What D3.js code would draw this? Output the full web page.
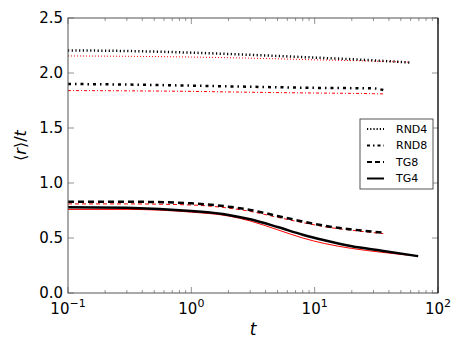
<!DOCTYPE html>
<html>
<head>
<meta charset="utf-8">
<script src="https://cdn.jsdelivr.net/npm/d3@7"></script>
<style>
  body { margin: 0; background: #fff; }
  text { font-family: "DejaVu Sans", sans-serif; }
</style>
</head>
<body>
<svg id="chart" width="463" height="348"></svg>
<script>
// values
var rnd4_t  = [0.1, 0.3, 1, 3, 10, 30, 59];
var rnd4_b  = [2.205, 2.20, 2.185, 2.165, 2.14, 2.115, 2.095];
var rnd4_r  = [2.155, 2.152, 2.145, 2.135, 2.12, 2.108, 2.098];

var rnd8_t  = [0.1, 0.3, 1, 3, 10, 30, 36];
var rnd8_b  = [1.90, 1.895, 1.885, 1.875, 1.865, 1.86, 1.845];
var rnd8_r  = [1.84, 1.838, 1.833, 1.825, 1.818, 1.812, 1.81];

var tg8_t   = [0.1, 0.3, 1, 2, 3, 5, 8, 13, 20, 36];
var tg8_b   = [0.83, 0.83, 0.815, 0.785, 0.755, 0.70, 0.65, 0.605, 0.578, 0.548];
var tg8_r   = [0.81, 0.81, 0.80, 0.772, 0.742, 0.688, 0.64, 0.597, 0.57, 0.54];

var tg4_t   = [0.1, 0.3, 1, 2, 3, 5, 8, 12, 20, 35, 69];
var tg4_b   = [0.78, 0.775, 0.745, 0.71, 0.67, 0.60, 0.53, 0.48, 0.425, 0.385, 0.335];
var tg4_r   = [0.76, 0.76, 0.735, 0.70, 0.655, 0.575, 0.50, 0.45, 0.405, 0.37, 0.335];

var yTicks = [0, 0.5, 1.0, 1.5, 2.0, 2.5];
var xTicks = [0.1, 1, 10, 100];
var xExp   = ['\u22121', '0', '1', '2'];
var legendNames = ['RND4', 'RND8', 'TG8', 'TG4'];

var svg = d3.select('#chart');
var margin = {top: 18, right: 25, bottom: 55, left: 68}
  , width = 463 - margin.left - margin.right
  , height = 348 - margin.top - margin.bottom;

var xScale = d3.scaleLog().domain([0.1, 100]).range([0, width]);
var yScale = d3.scaleLinear().domain([0, 2.5]).range([height, 0]);

var g = svg.append('g')
    .attr('transform', 'translate(' + margin.left + ',' + margin.top + ')');

// minor + major ticks, inside, bottom and top
var minors = [];
[0.1, 1, 10].forEach(function(d) {
  for (var k = 2; k <= 9; k++) minors.push(d * k);
});
[[height, -1], [0, 1]].forEach(function(p) {
  minors.forEach(function(v) {
    g.append('line')
      .attr('x1', xScale(v)).attr('x2', xScale(v))
      .attr('y1', p[0]).attr('y2', p[0] + p[1] * 3)
      .attr('stroke', '#777').attr('stroke-width', 0.8);
  });
  xTicks.forEach(function(v) {
    g.append('line')
      .attr('x1', xScale(v)).attr('x2', xScale(v))
      .attr('y1', p[0]).attr('y2', p[0] + p[1] * 6)
      .attr('stroke', '#777').attr('stroke-width', 0.8);
  });
});
yTicks.forEach(function(v) {
  g.append('line').attr('x1', 0).attr('x2', 6)
    .attr('y1', yScale(v)).attr('y2', yScale(v))
    .attr('stroke', '#777').attr('stroke-width', 0.8);
  g.append('line').attr('x1', width).attr('x2', width - 6)
    .attr('y1', yScale(v)).attr('y2', yScale(v))
    .attr('stroke', '#777').attr('stroke-width', 0.8);
});

// y tick labels
yTicks.forEach(function(v) {
  g.append('text')
    .attr('x', -5).attr('y', yScale(v))
    .attr('dy', '0.36em')
    .attr('text-anchor', 'end')
    .attr('font-size', 15)
    .text(v.toFixed(1));
});

// x tick labels 10^n
xTicks.forEach(function(v, i) {
  var t = g.append('text')
    .attr('x', xScale(v)).attr('y', height + 21)
    .attr('text-anchor', 'middle')
    .attr('font-size', 15);
  t.append('tspan').text('10');
  t.append('tspan').attr('dy', -7).attr('font-size', 11).text(xExp[i]);
});

// axis titles
g.append('text')
  .attr('x', width / 2).attr('y', height + 42)
  .attr('text-anchor', 'middle')
  .attr('font-family', 'DejaVu Serif')
  .attr('font-style', 'italic')
  .attr('font-size', 17)
  .text('t');

g.append('text')
  .attr('transform', 'translate(' + (-42) + ',' + (height / 2 - 10) + ') rotate(-90)')
  .attr('text-anchor', 'middle')
  .attr('font-family', 'DejaVu Serif')
  .attr('font-size', 16)
  .html('\u27E8<tspan font-style="italic">r</tspan>\u27E9/<tspan font-style="italic">t</tspan>');

var line = d3.line()
    .x(function(d) { return xScale(d[0]); })
    .y(function(d) { return yScale(d[1]); })
    .curve(d3.curveMonotoneX);

var zip = function(a, b) { return a.map(function(v, i) { return [v, b[i]]; }); };

var series = [
  {t: tg4_t,  v: tg4_r,  c: 'red',   w: 1,   dash: null},
  {t: tg8_t,  v: tg8_r,  c: 'red',   w: 1,   dash: '4,3'},
  {t: rnd8_t, v: rnd8_r, c: 'red',   w: 1,   dash: '3,2,1,2'},
  {t: rnd4_t, v: rnd4_r, c: 'red',   w: 1,   dash: '1,2'},
  {t: tg4_t,  v: tg4_b,  c: 'black', w: 2.5, dash: null},
  {t: tg8_t,  v: tg8_b,  c: 'black', w: 2.5, dash: '6,4'},
  {t: rnd8_t, v: rnd8_b, c: 'black', w: 2.5, dash: '3,4,1.5,4'},
  {t: rnd4_t, v: rnd4_b, c: 'black', w: 2.5, dash: '1.2,2.5'}
];

series.forEach(function(s) {
  g.append('path')
    .datum(zip(s.t, s.v))
    .attr('d', line)
    .attr('fill', 'none')
    .attr('stroke', s.c)
    .attr('stroke-width', s.w)
    .attr('stroke-dasharray', s.dash);
});

// frame
g.append('rect')
  .attr('width', width).attr('height', height)
  .attr('fill', 'none')
  .attr('stroke', '#555').attr('stroke-width', 1);
g.append('line')
  .attr('x1', width).attr('x2', width).attr('y1', 0).attr('y2', height)
  .attr('stroke', '#000').attr('stroke-width', 1);

// legend
var legend = svg.append('g').attr('transform', 'translate(360,119)');
legend.append('rect')
  .attr('width', 73).attr('height', 70)
  .attr('fill', '#fff').attr('stroke', '#555').attr('stroke-width', 1);
var legDash = ['1.2,2', '3,3,1.5,3', '5,3', null];
legendNames.forEach(function(n, i) {
  var y = 10 + i * 16.5;
  legend.append('line')
    .attr('x1', 7).attr('x2', 24).attr('y1', y).attr('y2', y)
    .attr('stroke', 'black').attr('stroke-width', 2)
    .attr('stroke-dasharray', legDash[i]);
  legend.append('text')
    .attr('x', 36).attr('y', y).attr('dy', '0.36em')
    .attr('font-size', 11)
    .text(n);
});
</script>
</body>
</html>
